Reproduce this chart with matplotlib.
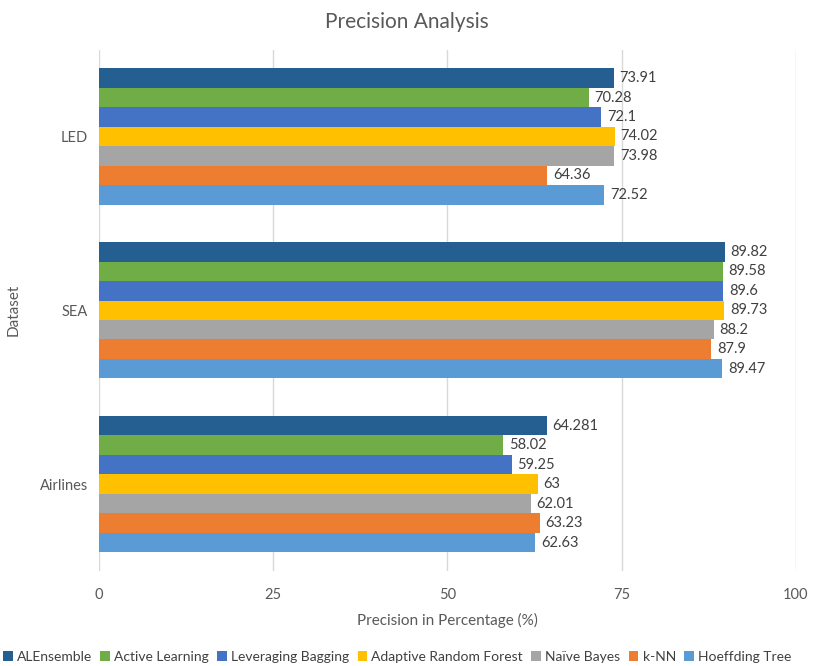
import matplotlib.pyplot as plt
import numpy as np

plt.rcParams['font.family'] = ['Lato', 'DejaVu Sans']

datasets = ["Airlines", "SEA", "LED"]
series_names = ["ALEnsemble", "Active Learning", "Leveraging Bagging",
                "Adaptive Random Forest", "Naïve Bayes", "k-NN", "Hoeffding Tree"]
series_labels = {
    "ALEnsemble":             ["64.281", "89.82", "73.91"],
    "Active Learning":        ["58.02", "89.58", "70.28"],
    "Leveraging Bagging":     ["59.25", "89.6", "72.1"],
    "Adaptive Random Forest": ["63", "89.73", "74.02"],
    "Naïve Bayes":            ["62.01", "88.2", "73.98"],
    "k-NN":                   ["63.23", "87.9", "64.36"],
    "Hoeffding Tree":         ["62.63", "89.47", "72.52"],
}
colors = ["#255E91", "#70AD47", "#4472C4", "#FFC000", "#A5A5A5", "#ED7D31", "#5B9BD5"]
x_ticks = [0, 25, 50, 75, 100]

fig = plt.figure(figsize=(8.14, 6.66), dpi=100)
ax = fig.add_axes([0.1216, 0.1426, 0.856, 0.783])

n = len(series_names)
bar_h = 0.112
y = np.arange(len(datasets))
for i, (name, col) in enumerate(zip(series_names, colors)):
    vals = [float(v) for v in series_labels[name]]
    offs = (n - 1) / 2 * bar_h - i * bar_h
    pos = y + offs
    ax.barh(pos, vals, height=bar_h, color=col, label=name, zorder=3)
    for p, v, lab in zip(pos, vals, series_labels[name]):
        ax.text(v + 0.8, p, lab, va='center', ha='left', fontsize=10.5,
                color='#404040', zorder=4)

ax.set_xlim(0, 100)
ax.set_ylim(-0.5, 2.5)
ax.set_xticks(x_ticks)
ax.set_yticks(y)
ax.set_yticklabels(datasets)
ax.tick_params(axis='both', length=0, colors='#595959', labelsize=10.5)
ax.tick_params(axis='x', pad=12)
ax.tick_params(axis='y', pad=8)
ax.grid(axis='x', color='#D9D9D9', linewidth=1, zorder=0)
for s in ax.spines.values():
    s.set_visible(False)

ax.set_xlabel("Precision in Percentage (%)", fontsize=11, color='#595959', labelpad=8)
ax.set_ylabel("Dataset", fontsize=11, color='#595959', labelpad=14)
fig.text(0.5, 0.967, "Precision Analysis", ha='center', va='center',
         fontsize=15, color='#595959')

leg = fig.legend(loc='center left', bbox_to_anchor=(0.0, 0.014), ncol=7, frameon=False,
                 fontsize=10, handlelength=0.7, handleheight=0.7, handletextpad=0.3,
                 columnspacing=0.6, borderaxespad=0, borderpad=0.2)
for t in leg.get_texts():
    t.set_color('#404040')

fig.savefig("out.png", dpi=100)
